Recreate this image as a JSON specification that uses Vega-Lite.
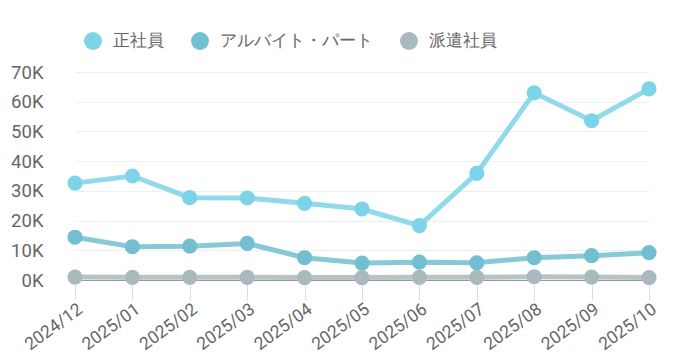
{
  "$schema": "https://vega.github.io/schema/vega-lite/v6.json",
  "autosize": "none",
  "width": 595,
  "height": 208,
  "padding": {"left": 55, "top": 72, "right": 28, "bottom": 80},
  "background": "white",
  "config": {
    "font": "Roboto",
    "view": {"stroke": null}
  },
  "data": {"values": [
    {"month": "2024/12", "type": "正社員", "value": 32600},
    {"month": "2025/01", "type": "正社員", "value": 35000},
    {"month": "2025/02", "type": "正社員", "value": 27700},
    {"month": "2025/03", "type": "正社員", "value": 27600},
    {"month": "2025/04", "type": "正社員", "value": 25800},
    {"month": "2025/05", "type": "正社員", "value": 23900},
    {"month": "2025/06", "type": "正社員", "value": 18300},
    {"month": "2025/07", "type": "正社員", "value": 35900},
    {"month": "2025/08", "type": "正社員", "value": 63000},
    {"month": "2025/09", "type": "正社員", "value": 53600},
    {"month": "2025/10", "type": "正社員", "value": 64300},
    {"month": "2024/12", "type": "アルバイト・パート", "value": 14400},
    {"month": "2025/01", "type": "アルバイト・パート", "value": 11200},
    {"month": "2025/02", "type": "アルバイト・パート", "value": 11400},
    {"month": "2025/03", "type": "アルバイト・パート", "value": 12300},
    {"month": "2025/04", "type": "アルバイト・パート", "value": 7500},
    {"month": "2025/05", "type": "アルバイト・パート", "value": 5700},
    {"month": "2025/06", "type": "アルバイト・パート", "value": 6000},
    {"month": "2025/07", "type": "アルバイト・パート", "value": 5800},
    {"month": "2025/08", "type": "アルバイト・パート", "value": 7500},
    {"month": "2025/09", "type": "アルバイト・パート", "value": 8200},
    {"month": "2025/10", "type": "アルバイト・パート", "value": 9200},
    {"month": "2024/12", "type": "派遣社員", "value": 1000},
    {"month": "2025/01", "type": "派遣社員", "value": 900},
    {"month": "2025/02", "type": "派遣社員", "value": 900},
    {"month": "2025/03", "type": "派遣社員", "value": 900},
    {"month": "2025/04", "type": "派遣社員", "value": 800},
    {"month": "2025/05", "type": "派遣社員", "value": 800},
    {"month": "2025/06", "type": "派遣社員", "value": 900},
    {"month": "2025/07", "type": "派遣社員", "value": 900},
    {"month": "2025/08", "type": "派遣社員", "value": 1100},
    {"month": "2025/09", "type": "派遣社員", "value": 1000},
    {"month": "2025/10", "type": "派遣社員", "value": 800}
  ]},
  "encoding": {
    "x": {
      "field": "month", "type": "ordinal",
      "scale": {"type": "point", "range": [20, 594], "padding": 0},
      "axis": {
        "title": null,
        "labelAngle": -36,
        "labelAlign": "right",
        "labelBaseline": "top",
        "labelFontSize": 17.5,
        "labelColor": "#666666",
        "labelPadding": 0,
        "tickSize": 20,
        "tickColor": "#dddddd",
        "domainColor": "#999999",
        "grid": false
      }
    },
    "y": {
      "field": "value", "type": "quantitative",
      "scale": {"domain": [0, 70000]},
      "axis": {
        "title": null,
        "values": [0, 10000, 20000, 30000, 40000, 50000, 60000, 70000],
        "labelExpr": "datum.value / 1000 + 'K'",
        "labelFontSize": 18.5,
        "labelColor": "#666666",
        "labelPadding": 12,
        "domain": false,
        "ticks": false,
        "gridColor": "#efefef"
      }
    },
    "color": {
      "field": "type", "type": "nominal",
      "sort": ["正社員", "アルバイト・パート", "派遣社員"],
      "scale": {"domain": ["正社員", "アルバイト・パート", "派遣社員"], "range": ["#7dd3e8", "#72bfd0", "#aab9bd"]},
      "legend": {
        "title": null,
        "orient": "none",
        "direction": "horizontal",
        "legendX": 29,
        "legendY": -40,
        "symbolType": "circle",
        "symbolSize": 320,
        "symbolOpacity": 1,
        "symbolStrokeWidth": 0,
        "labelFontSize": 17,
        "labelColor": "#666666",
        "labelOffset": 11,
        "columnPadding": 27
      }
    }
  },
  "layer": [
    {"mark": {"type": "line", "strokeWidth": 5, "opacity": 0.85}},
    {"mark": {"type": "point", "filled": true, "size": 230, "opacity": 1}}
  ]
}
